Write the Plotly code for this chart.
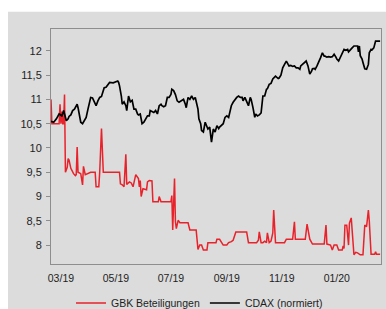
import pandas as pd
import plotly.graph_objects as go

# ---- data ----
start_date = "2019-02-18"          # first observation
end_date = "2020-02-19"

# days since start_date, and values (CDAX normalised to GBK scale)
cdax_days = [0,3,6,7,9,11,12,14,15,17,19,20,22,24,26,28,29,30,32,33,35,37,39,41,43,44,46,48,50,52,54,56,57,59,61,63,65,69,72,74,75,76,78,79,81,83,84,86,88,90,92,94,96,97,99,101,103,105,107,109,110,112,114,116,118,120,122,123,125,127,129,131,133,134,136,138,140,142,144,146,147,149,150,152,154,156,158,160,162,163,164,166,167,169,171,173,174,176,178,180,182,184,186,187,189,191,193,195,197,199,200,202,204,206,208,210,212,213,215,217,219,221,222,224,226,227,229,231,233,235,237,239,240,242,244,246,249,252,253,255,257,259,261,263,264,266,268,270,272,274,276,277,279,281,283,285,287,289,290,292,293,295,297,299,301,303,304,306,308,310,312,314,316,317,319,321,323,325,327,329,330,332,334,336,338,340,341,342,343,345,346,348,350,352,353,355,356,358,360,362,364,365]
cdax_values = [10.55,10.53,10.6,10.63,10.7,10.68,10.65,10.77,10.7,10.56,10.6,10.65,10.68,10.77,10.8,10.87,10.9,10.83,10.6,10.53,10.5,10.56,10.63,10.8,10.97,11.04,11.03,10.94,10.87,10.97,11.04,11.06,11.14,11.24,11.25,11.29,11.35,11.34,11.36,11.38,11.35,11.28,11.07,10.9,10.95,10.87,10.77,11.07,10.95,10.98,10.8,10.8,10.7,10.68,10.7,10.5,10.53,10.6,10.66,10.66,10.77,10.75,10.73,10.77,10.7,10.87,10.9,10.87,10.85,10.87,11.04,11.04,11.1,11.21,11.18,11.1,10.97,10.94,10.97,11.0,11.0,10.9,10.83,11.04,11.0,11.07,11.0,11.04,10.9,10.8,10.6,10.5,10.36,10.33,10.53,10.43,10.39,10.43,10.12,10.39,10.33,10.46,10.4,10.43,10.46,10.5,10.63,10.66,10.63,10.83,10.87,10.94,11.0,11.04,11.07,11.04,11.04,10.97,11.04,10.94,10.87,11.04,11.0,10.83,10.63,10.7,10.66,10.68,10.72,11.07,11.07,11.21,11.22,11.31,11.33,11.42,11.48,11.43,11.44,11.5,11.65,11.72,11.79,11.72,11.69,11.7,11.68,11.69,11.65,11.65,11.62,11.69,11.72,11.75,11.79,11.69,11.52,11.58,11.63,11.64,11.62,11.69,11.76,11.86,11.96,11.89,11.89,11.87,11.88,11.87,11.88,11.93,11.87,11.83,11.79,11.87,11.93,12.03,12.01,12.03,11.98,12.03,12.06,12.1,12.1,12.1,11.98,12.1,11.9,11.83,11.76,11.63,11.62,11.72,11.96,12.03,12.02,12.06,12.2,12.2,12.19,12.2]

gbk_days = [0,1,9,10,11,12,13,14,15,16,18,19,20,22,25,27,28,29,30,33,35,36,38,41,44,49,50,53,54,56,57,58,76,77,79,81,83,84,87,89,91,94,97,98,99,100,102,106,107,109,112,113,119,120,122,133,134,135,137,138,139,141,143,152,154,161,163,165,167,169,173,174,183,184,187,189,191,195,197,200,202,205,217,219,228,230,231,233,235,237,239,240,242,244,246,247,249,259,261,268,270,271,282,284,287,290,303,305,306,310,312,314,317,319,323,324,325,326,328,330,331,333,335,336,338,340,343,346,348,350,352,353,355,359,360,361,365]
gbk_values = [11.0,10.5,10.5,10.9,10.5,10.75,10.5,10.5,11.1,9.5,9.6,9.78,9.75,9.58,9.47,9.43,9.45,10.02,9.5,9.47,9.24,9.62,9.45,9.47,9.5,9.5,9.2,9.2,9.5,10.4,9.78,9.5,9.5,9.26,9.24,9.2,9.87,9.25,9.3,9.28,9.2,9.45,9.37,9.2,9.33,9.0,9.16,9.14,9.3,9.33,9.32,8.89,8.89,9.0,8.89,8.89,9.02,8.31,9.37,8.48,8.34,8.51,8.46,8.46,8.31,8.31,7.91,8.0,8.0,7.9,7.9,8.05,8.05,8.12,8.12,8.05,8.0,8.0,8.05,8.07,8.1,8.27,8.27,8.05,8.05,8.1,8.27,8.05,8.05,8.08,8.05,8.25,8.05,8.08,8.25,8.72,8.05,8.05,8.12,8.12,8.48,8.12,8.12,8.43,8.12,8.02,8.02,8.41,8.02,8.0,7.9,8.0,8.0,7.9,7.9,7.98,7.93,8.41,8.41,8.0,8.45,8.56,8.0,7.8,7.85,7.84,7.8,7.8,8.41,8.38,8.72,8.5,7.81,7.81,7.86,7.81,7.81]

assert len(cdax_days) == len(cdax_values)
assert len(gbk_days) == len(gbk_values)

x_tick_dates = ["2019-03-01", "2019-05-01", "2019-07-01", "2019-09-01", "2019-11-01", "2020-01-01"]
x_tick_labels = ["03/19", "05/19", "07/19", "09/19", "11/19", "01/20"]
y_tick_values = [8, 8.5, 9, 9.5, 10, 10.5, 11, 11.5, 12]

series_names = ["GBK Beteiligungen", "CDAX (normiert)"]

# ---- build ----
t0 = pd.Timestamp(start_date)
cdax_dates = [t0 + pd.Timedelta(days=d) for d in cdax_days]
gbk_dates = [t0 + pd.Timedelta(days=d) for d in gbk_days]

BG = "#dcdcdc"
FRAME = "#8e8e8e"
FONT = "Liberation Sans, Arial, sans-serif"
TXT = "#1e1e1e"

W, H = 386, 322
L, R, T, B = 51, 5, 29, 47
PW, PH = W - L - R, H - T - B

fig = go.Figure()
fig.add_trace(go.Scatter(x=gbk_dates, y=gbk_values, mode="lines", name=series_names[0],
                         line=dict(color="#e8222a", width=1.5)))
fig.add_trace(go.Scatter(x=cdax_dates, y=cdax_values, mode="lines", name=series_names[1],
                         line=dict(color="#000000", width=1.7)))

fig.update_layout(
    width=W, height=H,
    margin=dict(l=L, r=R, t=T, b=B),
    paper_bgcolor=BG, plot_bgcolor=BG,
    separators=",.",
    font=dict(family=FONT, size=11, color=TXT),
    showlegend=True,
    legend=dict(orientation="h", x=0.45, xanchor="center", y=-0.166, yanchor="middle",
                font=dict(size=10.5, color=TXT), bgcolor="rgba(0,0,0,0)",
                itemwidth=30, tracegroupgap=0),
    shapes=[
        # white page strip above and left of the grey panel
        dict(type="rect", xref="paper", yref="paper", x0=-L / PW - 0.01, x1=1 + R / PW + 0.01,
             y0=(PH + T - 11) / PH, y1=(PH + T) / PH + 0.01,
             fillcolor="white", line_width=0, layer="below"),
        dict(type="rect", xref="paper", yref="paper", x0=-L / PW - 0.01, x1=(8 - L) / PW,
             y0=-B / PH - 0.01, y1=(PH + T) / PH + 0.01,
             fillcolor="white", line_width=0, layer="below"),
    ],
)
fig.update_xaxes(
    type="date", range=[start_date, end_date],
    tickvals=x_tick_dates, ticktext=x_tick_labels,
    showgrid=False, zeroline=False,
    showline=True, mirror=True, linecolor=FRAME, linewidth=1,
    ticks="outside", ticklen=4, tickcolor="rgba(0,0,0,0)",
    tickfont=dict(size=10.5, color=TXT),
)
fig.update_yaxes(
    range=[7.61, 12.45], tickvals=y_tick_values,
    showgrid=False, zeroline=False,
    showline=True, mirror=True, linecolor=FRAME, linewidth=1,
    ticks="outside", ticklen=4, tickcolor=FRAME, tickwidth=1,
    tickfont=dict(size=11, color=TXT), ticklabelstandoff=2,
)

post = (
    "var de=document.documentElement, bd=document.body;"
    "de.style.margin='0'; de.style.padding='0'; de.style.overflow='hidden';"
    "bd.style.margin='0'; bd.style.padding='0'; bd.style.overflow='hidden';"
    "var gd=document.getElementById('{plot_id}'); var p=gd.parentElement;"
    "p.style.overflow='hidden';"
)
fig.write_html("out.html", post_script=post, config={"displayModeBar": False})
